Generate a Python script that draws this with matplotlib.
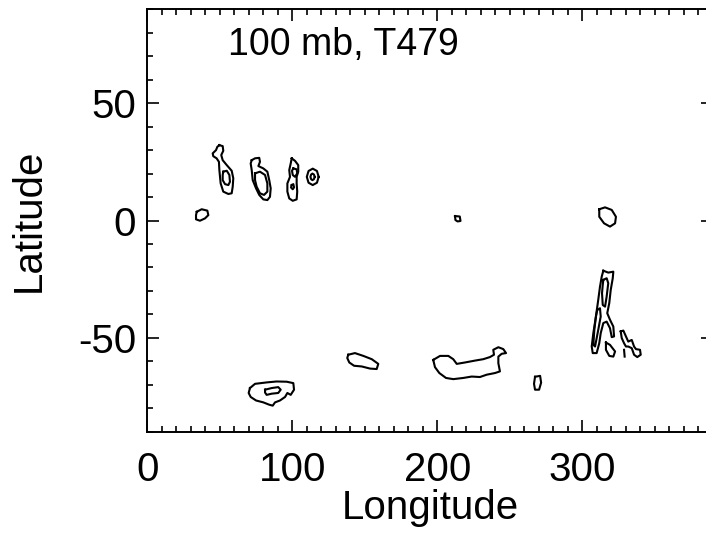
import matplotlib
matplotlib.use("Agg")
import matplotlib.pyplot as plt
from matplotlib.ticker import MultipleLocator

plt.rcParams['font.family'] = ['Liberation Sans', 'DejaVu Sans']

# Contour outlines of the 100 mb field (longitude, latitude pairs), one list per closed loop
contour_lon = {
    "indian_a_outer": [49.7, 52.0, 52.4, 51.0, 52.0, 54.8, 58.2, 59.3, 58.9, 58.2, 55.9, 52.4, 50.6, 49.7, 49.4, 47.8, 45.5, 45.1, 47.4, 48.3],
    "indian_a_inner": [52.4, 54.8, 56.6, 57.0, 55.9, 53.6, 52.0, 52.0],
    "indian_b_outer": [72.0, 74.3, 77.2, 77.7, 76.6, 80.0, 82.8, 84.1, 85.1, 84.6, 82.8, 80.0, 77.2, 75.0, 72.7, 72.0, 71.3],
    "indian_b_inner": [74.3, 77.7, 81.2, 82.8, 82.8, 80.5, 77.7, 75.4, 74.3],
    "indian_c_outer": [99.6, 101.9, 104.1, 104.1, 103.0, 103.0, 103.4, 103.0, 100.3, 97.9, 96.6, 96.6, 98.4, 97.9, 98.9],
    "indian_c_in1": [100.7, 103.0, 103.4, 101.9, 100.3, 99.8],
    "indian_c_in2": [99.6, 100.7, 101.2, 100.3, 99.1],
    "ring_outer": [118.2, 117.0, 114.1, 111.2, 110.0, 111.2, 114.1, 117.0],
    "ring_inner": [115.5, 114.9, 113.9, 113.0, 112.5, 113.0, 113.9, 114.9],
    "africa_eq": [34.1, 37.5, 41.4, 42.1, 39.8, 36.3, 33.6, 33.6],
    "pacific_eq": [212.2, 215.5, 216.0, 214.0, 212.5],
    "atlantic_eq": [311.7, 315.7, 320.3, 323.2, 322.6, 319.1, 315.0, 311.7],
    "andes_outer": [314.5, 317.9, 321.4, 321.0, 319.6, 318.6, 317.2, 319.1, 321.4, 321.9, 320.3, 319.1, 316.8, 314.5,
                    312.7, 311.7, 309.9, 307.2, 306.5, 307.6, 309.4, 311.0, 312.2, 313.4],
    "andes_in1": [314.5, 316.8, 317.9, 316.8, 315.7, 314.1, 313.6, 314.1],
    "andes_in2": [310.3, 312.2, 312.7, 311.0, 308.8, 307.6, 308.3, 309.4],
    "andes_d": [316.3, 319.1, 322.6, 321.4, 318.6, 316.3],
    "andes_e": [326.5, 328.3, 330.1, 331.7, 334.1, 335.7, 337.0, 339.8, 340.3, 337.9, 335.7, 334.1, 331.7, 330.1, 328.8, 327.2],
    "south_a_outer": [70.8, 74.3, 82.3, 89.2, 96.1, 100.7, 101.2, 98.9, 96.6, 95.0, 91.5, 88.1, 86.5, 84.1, 80.0, 75.0, 71.3, 69.9],
    "south_a_inner": [81.2, 85.8, 90.3, 92.0, 90.3, 85.8, 82.3, 81.2],
    "south_b": [138.6, 143.2, 149.0, 154.8, 159.3, 158.2, 153.6, 147.9, 142.6, 139.3, 137.9],
    "south_c": [197.2, 201.9, 207.6, 211.0, 213.4, 219.1, 226.0, 231.7, 236.3, 239.1, 238.6, 242.1, 245.5, 247.4, 244.4,
                242.1, 242.1, 243.2, 239.8, 234.1, 229.4, 223.7, 217.9, 211.0, 206.0, 201.4, 198.4],
    "south_d": [267.4, 270.9, 271.6, 270.2, 267.4, 266.7],
}
contour_lat = {
    "indian_a_outer": [32.1, 31.7, 29.7, 27.9, 25.7, 23.6, 21.2, 18.0, 14.4, 11.6, 11.3, 12.3, 15.8, 21.5, 25.0, 26.5, 27.4, 28.6, 30.0, 31.4],
    "indian_a_inner": [20.8, 21.2, 19.4, 16.5, 15.1, 15.5, 17.2, 19.4],
    "indian_b_outer": [25.7, 26.5, 26.7, 25.0, 23.2, 22.2, 20.8, 17.2, 13.7, 10.1, 8.7, 9.0, 10.9, 13.7, 17.2, 21.5, 24.3],
    "indian_b_inner": [20.1, 20.8, 19.4, 15.8, 12.3, 10.9, 11.6, 14.4, 17.2],
    "indian_c_outer": [26.5, 25.4, 23.6, 20.8, 18.6, 15.8, 12.3, 9.0, 8.4, 9.4, 12.3, 15.8, 18.6, 21.5, 24.3],
    "indian_c_in1": [22.2, 21.8, 20.1, 18.6, 19.4, 21.2],
    "indian_c_in2": [15.1, 15.5, 14.1, 13.3, 14.1],
    "ring_outer": [18.6, 21.1, 22.1, 21.1, 18.6, 16.1, 15.1, 16.1],
    "ring_inner": [18.6, 19.6, 20.0, 19.6, 18.6, 17.6, 17.2, 17.6],
    "africa_eq": [3.7, 4.8, 4.2, 2.3, 0.9, -0.1, 0.5, 2.3],
    "pacific_eq": [1.9, 1.7, -0.2, -0.4, 0.2],
    "atlantic_eq": [4.8, 5.6, 4.5, 1.6, -1.2, -2.6, -1.2, 1.6],
    "andes_outer": [-21.4, -22.2, -21.8, -24.6, -29.6, -35.2, -39.5, -42.3, -45.2, -49.4, -49.7, -45.9, -43.1, -43.7,
                    -48.0, -52.3, -56.5, -56.5, -53.7, -48.0, -40.9, -33.8, -28.2, -23.9],
    "andes_in1": [-25.3, -24.6, -26.7, -32.4, -36.7, -36.0, -31.0, -27.4],
    "andes_in2": [-38.1, -37.4, -40.9, -46.6, -53.7, -53.0, -46.6, -40.9],
    "andes_d": [-52.0, -53.0, -55.8, -58.0, -57.7, -55.1],
    "andes_e": [-47.3, -46.9, -49.4, -51.6, -50.9, -53.7, -54.8, -55.1, -57.2, -58.2, -57.2, -54.4, -53.7, -53.7, -52.3, -50.1],
    "south_a_outer": [-71.4, -69.6, -69.0, -68.6, -68.7, -69.3, -72.1, -74.3, -73.5, -75.2, -76.7, -77.5, -78.9, -78.5, -77.5, -76.7, -75.2, -73.5],
    "south_a_inner": [-72.1, -71.4, -71.0, -72.1, -73.5, -73.8, -74.3, -73.3],
    "south_b": [-57.2, -56.5, -57.7, -59.1, -61.1, -63.3, -63.1, -62.2, -61.9, -60.5, -58.6],
    "south_c": [-59.4, -57.7, -57.7, -59.1, -61.1, -60.5, -59.7, -59.1, -58.2, -57.2, -55.1, -54.0, -54.8, -56.5, -56.8,
                -58.0, -60.8, -64.3, -65.0, -65.7, -66.7, -66.5, -67.1, -67.6, -67.1, -65.0, -62.5],
    "south_d": [-66.6, -66.2, -69.1, -72.1, -72.1, -69.6],
}
# Short open segment hanging under the small loop east of the Andes
stub_lon = [328.8, 329.2]
stub_lat = [-55.1, -58.0]

x_ticks = [0, 100, 200, 300]
y_ticks = [-50, 0, 50]
title_text = "100 mb, T479"

W, H = 706, 537
fig = plt.figure(figsize=(W / 100, H / 100), dpi=100)
x0, x1 = 0, 390
left_px, top_px, bottom_px = 147.3, 9.3, 431.7
px_per_deg = 1.45
ax = fig.add_axes([left_px / W, (H - bottom_px) / H,
                   (x1 - x0) * px_per_deg / W, (bottom_px - top_px) / H])

line_kw = dict(color="black", lw=1.5, solid_joinstyle="round")
for key in contour_lon:
    lons = contour_lon[key] + contour_lon[key][:1]
    lats = contour_lat[key] + contour_lat[key][:1]
    ax.plot(lons, lats, **line_kw)
ax.plot(stub_lon, stub_lat, **line_kw)

ax.set_xlim(x0, x1)
ax.set_ylim(-90, 90)
ax.set_xticks(x_ticks)
ax.set_xticklabels([str(v) for v in x_ticks])
ax.set_yticks(y_ticks)
ax.set_yticklabels([str(v) for v in y_ticks])
ax.xaxis.set_minor_locator(MultipleLocator(10))
ax.yaxis.set_minor_locator(MultipleLocator(10))
ax.tick_params(which="both", direction="in", top=True, right=True, width=1.2, colors="black")
ax.tick_params(which="major", length=8.5, labelsize=29)
ax.tick_params(which="minor", length=4.5)
ax.tick_params(axis="x", which="major", pad=14)
ax.tick_params(axis="y", which="major", pad=8)
for s in ax.spines.values():
    s.set_linewidth(1.4)

ax.set_xlabel("Longitude", fontsize=29, labelpad=0)
ax.set_ylabel("Latitude", fontsize=29, labelpad=22)
ax.text(0.142, 0.915, title_text, transform=ax.transAxes, fontsize=27, va="center", ha="left")

fig.savefig("out.png", dpi=100)
